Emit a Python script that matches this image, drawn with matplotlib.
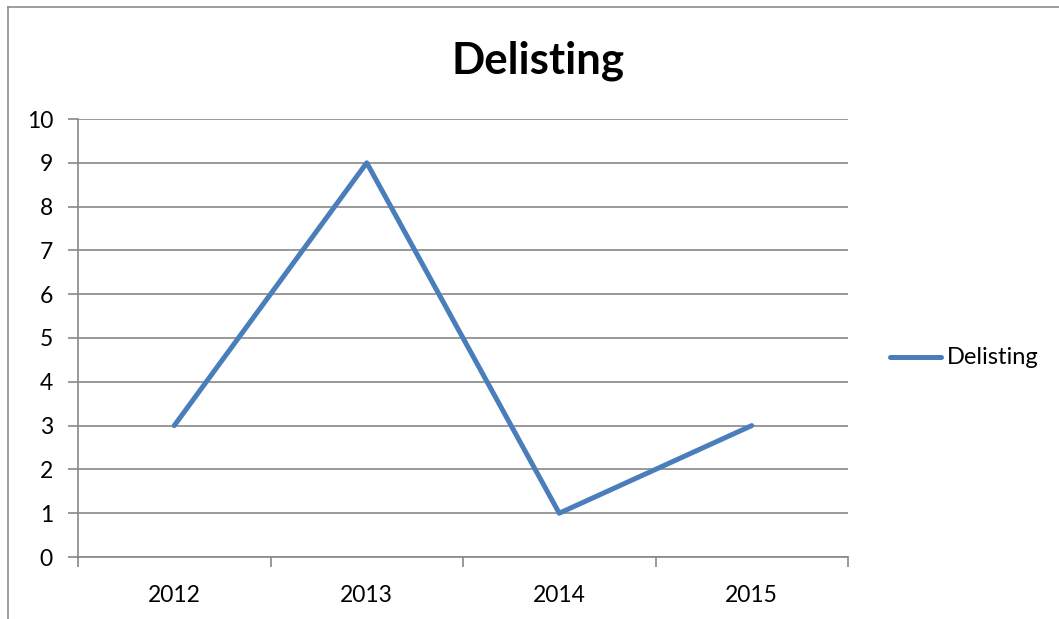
import matplotlib
matplotlib.use("Agg")
import matplotlib.pyplot as plt
from matplotlib.lines import Line2D

categories = ["2012", "2013", "2014", "2015"]
values = [3, 9, 1, 3]
series_name = "Delisting"
title = "Delisting"
yticks = list(range(0, 11))

plt.rcParams['font.family'] = ['Lato', 'DejaVu Sans']

W, H = 1059, 619
fig = plt.figure(figsize=(W / 100, H / 100), dpi=100)

# outer chart border (left and top visible)
fig.add_artist(Line2D([8 / W, 8 / W], [0, 1 - 7 / H], transform=fig.transFigure, color="#8c8c8c", lw=1.2))
fig.add_artist(Line2D([8 / W, 1], [1 - 7 / H, 1 - 7 / H], transform=fig.transFigure, color="#8c8c8c", lw=1.2))

ax = fig.add_axes([78 / W, 1 - 557 / H, (848 - 78) / W, (557 - 119) / H])
x = list(range(len(categories)))
line_color = "#4A7EBB"
ax.plot(x, values, color=line_color, lw=3.6, solid_capstyle="round", solid_joinstyle="round", zorder=3)

ax.set_xlim(-0.5, len(categories) - 0.5)
ax.set_ylim(0, 10)
ax.set_yticks(yticks)
ax.set_yticklabels([str(t) for t in yticks])
ax.yaxis.grid(True, color="#878787", lw=1.2)
ax.set_axisbelow(True)

# category ticks at boundaries, labels centered
ax.set_xticks([i - 0.5 for i in range(len(categories) + 1)])
ax.set_xticklabels([])
ax.set_xticks(x, minor=True)
ax.set_xticklabels(categories, minor=True)
ax.tick_params(axis="x", which="major", length=7, width=1.2, color="#878787", direction="out")
ax.tick_params(axis="x", which="minor", length=0, labelsize=16.5, pad=20)
ax.tick_params(axis="y", length=7, width=1.2, color="#878787", labelsize=16.5, pad=11)

for s in ["top", "right"]:
    ax.spines[s].set_visible(False)
ax.spines["left"].set_color("#878787")
ax.spines["bottom"].set_color("#878787")
ax.spines["left"].set_linewidth(1.2)
ax.spines["bottom"].set_linewidth(1.2)

fig.text(538 / W, 1 - 61 / H, title, ha="center", va="center", fontsize=31.5, fontweight="bold")

# legend
fig.add_artist(Line2D([890 / W, 941 / W], [1 - 357 / H, 1 - 357 / H], transform=fig.transFigure,
                      color=line_color, lw=3.6, solid_capstyle="round"))
fig.text(947 / W, 1 - 358 / H, series_name, ha="left", va="center", fontsize=17)

fig.savefig("out.png", dpi=100)
